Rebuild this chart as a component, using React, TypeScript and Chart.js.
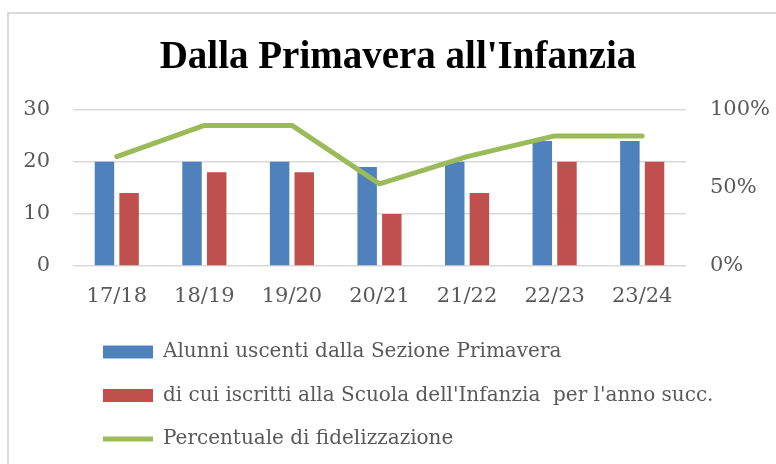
import React, { useEffect, useRef } from "react";
import { Chart, registerables } from "chart.js";

Chart.register(...registerables);

const titleText = "Dalla Primavera all'Infanzia";
const categories = ["17/18", "18/19", "19/20", "20/21", "21/22", "22/23", "23/24"];
const alunniUscenti = [20, 20, 20, 19, 20, 24, 24];
const iscrittiInfanzia = [14, 18, 18, 10, 14, 20, 20];
const percentuale = [70, 90, 90, 52.6, 70, 83.3, 83.3];
const seriesLabels = [
  "Alunni uscenti dalla Sezione Primavera",
  "di cui iscritti alla Scuola dell'Infanzia  per l'anno succ.",
  "Percentuale di fidelizzazione",
];
const leftAxis = { min: 0, max: 30, step: 10 };
const rightAxis = { min: 0, max: 100, step: 50 };

const BLUE = "#4F81BD";
const RED = "#C0504D";
const GREEN = "#9BBB59";
const TEXT = "#595959";
const GRID = "#d9d9d9";
const SERIF = "'DejaVu Serif', 'Liberation Serif', serif";
const TICK_SIZE = 21;

const LEGEND_PAD = 23.5;
const LEGEND_SHIFT = 103 - LEGEND_PAD;
const TITLE_SHIFT = 10;

const shiftPlugin = {
  id: "shiftBlocks",
  afterLayout(chart: any) {
    const lg = chart.legend;
    if (lg) {
      lg.left += LEGEND_SHIFT;
      lg.right += LEGEND_SHIFT;
    }
    const tb = chart.titleBlock;
    if (tb) {
      tb.left += TITLE_SHIFT;
      tb.right += TITLE_SHIFT;
    }
  },
};

export default function App() {
  const ref = useRef<HTMLCanvasElement | null>(null);

  useEffect(() => {
    if (!ref.current) return;
    const chart = new Chart(ref.current, {
      type: "bar",
      data: {
        labels: categories,
        datasets: [
          {
            type: "bar",
            label: seriesLabels[0],
            data: alunniUscenti,
            backgroundColor: BLUE,
            borderColor: BLUE,
            borderWidth: 0,
            yAxisID: "y",
            order: 1,
            categoryPercentage: 0.563,
            barPercentage: 0.79,
            pointStyle: "rect",
          } as any,
          {
            type: "bar",
            label: seriesLabels[1],
            data: iscrittiInfanzia,
            backgroundColor: RED,
            borderColor: RED,
            borderWidth: 0,
            yAxisID: "y",
            order: 1,
            categoryPercentage: 0.563,
            barPercentage: 0.79,
            pointStyle: "rect",
          } as any,
          {
            type: "line",
            label: seriesLabels[2],
            data: percentuale,
            borderColor: GREEN,
            backgroundColor: GREEN,
            borderWidth: 5,
            borderCapStyle: "round",
            borderJoinStyle: "round",
            pointRadius: 0,
            pointHoverRadius: 0,
            pointStyle: "line",
            tension: 0,
            yAxisID: "y1",
            order: 0,
          } as any,
        ],
      },
      options: {
        animation: false,
        responsive: false,
        maintainAspectRatio: false,
        layout: { padding: { top: 11, bottom: 5, left: 0, right: 0 } },
        plugins: {
          title: {
            display: true,
            text: titleText,
            color: "#000000",
            font: { family: "'Liberation Serif', serif", size: 39, weight: "bold", lineHeight: 1.2 },
            padding: { top: 24, bottom: 28 },
          },
          legend: {
            display: true,
            position: "bottom",
            align: "start",
            labels: {
              color: TEXT,
              font: { family: SERIF, size: 20 },
              usePointStyle: true,
              pointStyleWidth: 50,
              boxHeight: 13,
              padding: LEGEND_PAD,
              sort: (a: any, b: any) => a.datasetIndex - b.datasetIndex,
            },
          },
          tooltip: { enabled: false },
        },
        scales: {
          x: {
            grid: { display: false, drawTicks: false },
            border: { display: false },
            ticks: {
              color: TEXT,
              font: { family: SERIF, size: TICK_SIZE },
              padding: 18,
              maxRotation: 0,
            },
            afterFit: (s: any) => {
              s.height = 52.5;
            },
          },
          y: {
            position: "left",
            min: leftAxis.min,
            max: leftAxis.max,
            ticks: {
              stepSize: leftAxis.step,
              color: TEXT,
              font: { family: SERIF, size: TICK_SIZE },
              padding: 23,
            },
            grid: { color: GRID, lineWidth: 1.5, drawTicks: false },
            border: { display: false },
            afterFit: (s: any) => {
              s.width = 73;
            },
          },
          y1: {
            position: "right",
            min: rightAxis.min,
            max: rightAxis.max,
            ticks: {
              stepSize: rightAxis.step,
              color: TEXT,
              font: { family: SERIF, size: TICK_SIZE },
              padding: 24,
              callback: (v: any) => `${v}%`,
            },
            grid: { display: false, drawTicks: false },
            border: { display: false },
            afterFit: (s: any) => {
              s.width = 90;
            },
          },
        },
      },
      plugins: [shiftPlugin],
    } as any);
    return () => chart.destroy();
  }, []);

  return (
    <div style={{ position: "fixed", left: 0, top: 0, width: 776, height: 464, overflow: "hidden", background: "#fff" }}>
      <div
        style={{
          position: "absolute",
          left: 7,
          top: 12,
          width: 800,
          height: 500,
          borderTop: "2px solid #d9d9d9",
          borderLeft: "2px solid #d9d9d9",
        }}
      />
      <canvas ref={ref} width={776} height={464} style={{ position: "absolute", left: 0, top: 0, width: 776, height: 464 }} />
    </div>
  );
}
